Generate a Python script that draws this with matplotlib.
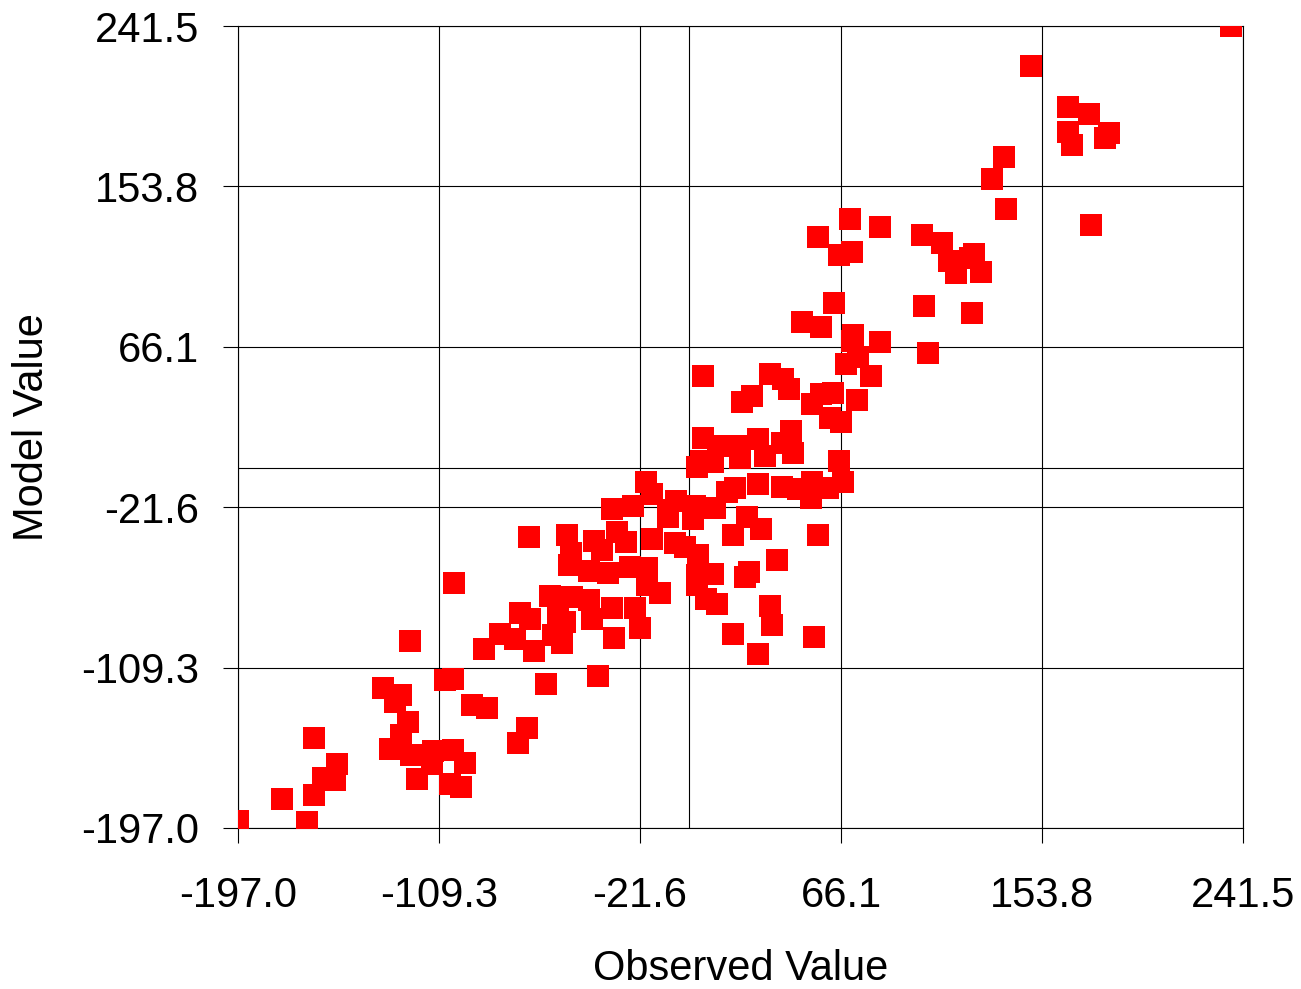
import numpy as np
import matplotlib
matplotlib.use("Agg")
import matplotlib.pyplot as plt

plt.rcParams['font.family'] = ['Liberation Sans', 'DejaVu Sans']

# observed / model pairs
observed = [
    -196.8, -177.9, -166.8, -163.8, -153.8, -163.8, -159.8, -154.8,
    -133.9, -125.7, -128.6, -123.0, -125.7, -130.7, -121.5, -118.8,
    -111.8, -103.1, -98.0, -112.4, -104.6, -99.7, -106.7, -103.1,
    -94.8, -88.4, -102.8, -121.9, -74.8, -70.9, -62.8, -89.8,
    -82.7, -73.8, -69.7, -76.1, -67.9, -60.7, -56.8, -59.4,
    -55.6, -57.3, -19.1, -16.4, -33.7, -24.5, -5.9, -9.3,
    -69.9, -53.6, -51.8, -52.7, -41.7, -31.8, -27.7, -38.3,
    -44.0, -35.6, -25.8, -18.7, -18.7, -12.9, -51.4, -43.9,
    -33.9, -23.8, -21.7, -32.8, -54.3, -42.7, -39.8, 6.0,
    12.6, 22.2, 30.0, 40.2, 44.3, 45.1, 33.1, 22.2,
    3.1, 5.0, 10.2, 65.2, 67.1, 53.3, 53.1, 60.4,
    40.3, 47.5, 30.0, 20.0, 16.2, 2.4, 11.1, -9.3,
    1.6, -16.5, -6.3, -2.0, 3.8, 25.0, 31.0, 19.1,
    56.1, 38.2, 26.0, 24.2, 3.1, 10.2, 3.1, 7.2,
    12.1, 35.0, 36.1, 19.1, 30.0, 54.2, 6.0, 35.1,
    40.9, 43.3, 23.0, 27.1, 53.3, 57.2, 62.7, 72.9,
    61.3, 66.2, 68.3, 70.8, 83.0, 79.2, 73.5, 70.1,
    56.1, 83.0, 65.2, 71.0, 101.3, 110.2, 113.3, 116.1,
    122.4, 124.1, 127.0, 138.2, 102.2, 123.1, 63.2, 49.1,
    57.2, 71.2, 104.1, 236.2, 149.1, 165.1, 174.2, 165.1,
    167.0, 181.3, 183.0, 137.1, 132.1, 175.0,
]
model = [
    -193.4, -181.3, -193.7, -147.8, -161.8, -179.0, -169.5, -170.9,
    -120.4, -124.1, -128.1, -139.2, -146.0, -153.8, -157.1, -170.2,
    -154.7, -154.3, -161.4, -162.0, -172.8, -174.4, -116.2, -115.3,
    -129.6, -131.4, -63.0, -94.9, -150.7, -142.5, -118.1, -98.9,
    -91.1, -79.6, -82.9, -93.8, -100.0, -70.1, -70.6, -91.3,
    -95.8, -82.3, -7.7, -14.3, -22.5, -21.2, -18.1, -26.7,
    -38.0, -36.7, -46.8, -53.0, -40.0, -34.9, -40.4, -45.0,
    -56.6, -57.5, -54.1, -55.0, -64.1, -68.3, -70.5, -72.4,
    -76.8, -76.5, -87.8, -93.2, -84.2, -82.8, -113.7, 16.5,
    12.1, 11.6, 15.8, 13.4, 19.8, 8.0, 6.5, 5.4,
    0.6, 3.8, 3.0, 3.4, -7.9, -7.6, -16.3, -11.2,
    -10.3, -11.7, -9.0, -10.9, -13.2, -20.7, -22.1, -23.1,
    -27.8, -38.9, -41.0, -43.1, -47.7, -26.7, -33.3, -36.9,
    -36.7, -50.4, -56.8, -59.7, -58.6, -58.1, -63.9, -71.7,
    -74.6, -75.6, -86.1, -90.9, -101.8, -92.7, 49.9, 51.3,
    48.4, 43.0, 36.0, 39.3, 34.8, 40.2, 40.8, 37.1,
    27.1, 25.2, 56.6, 69.4, 68.5, 50.1, 60.6, 135.9,
    126.3, 131.6, 116.1, 117.7, 127.5, 122.6, 113.0, 106.4,
    114.8, 116.8, 107.0, 141.2, 88.4, 84.7, 89.8, 79.8,
    77.1, 72.7, 62.8, 241.5, 219.7, 197.4, 193.2, 183.6,
    176.4, 180.3, 183.2, 169.9, 158.0, 132.5,
]

lo, hi = -197.0, 241.5
ticks = np.linspace(lo, hi, 6)
tick_labels = ['%.1f' % t for t in ticks]

fig = plt.figure(figsize=(13.01, 9.89), dpi=100)
ax = fig.add_axes([0.1829, 0.1628, 0.7725, 0.8109])

lw = 0.8
ax.set_xlim(lo, hi)
ax.set_ylim(lo, hi)
ax.set_xticks(ticks)
ax.set_yticks(ticks)
ax.set_xticklabels(tick_labels)
ax.set_yticklabels(tick_labels)
ax.grid(True, color='black', linewidth=lw)
ax.set_axisbelow(True)
ax.axvline(0, color='black', linewidth=lw, zorder=1)
ax.axhline(0, color='black', linewidth=lw, zorder=1)

ax.scatter(observed, model, marker='s', s=16.3 ** 2, color='#ff0000',
           linewidths=0, zorder=3)

for sp in ax.spines.values():
    sp.set_linewidth(lw)
    sp.set_color('black')

ax.tick_params(axis='both', direction='out', length=10.8, width=lw,
               labelsize=30, colors='black')
ax.tick_params(axis='x', pad=24)
ax.tick_params(axis='y', pad=17)

ax.set_xlabel('Observed Value', fontsize=30, labelpad=23.5)
ax.set_ylabel('Model Value', fontsize=30, labelpad=21)

fig.savefig('out.png', dpi=100)
